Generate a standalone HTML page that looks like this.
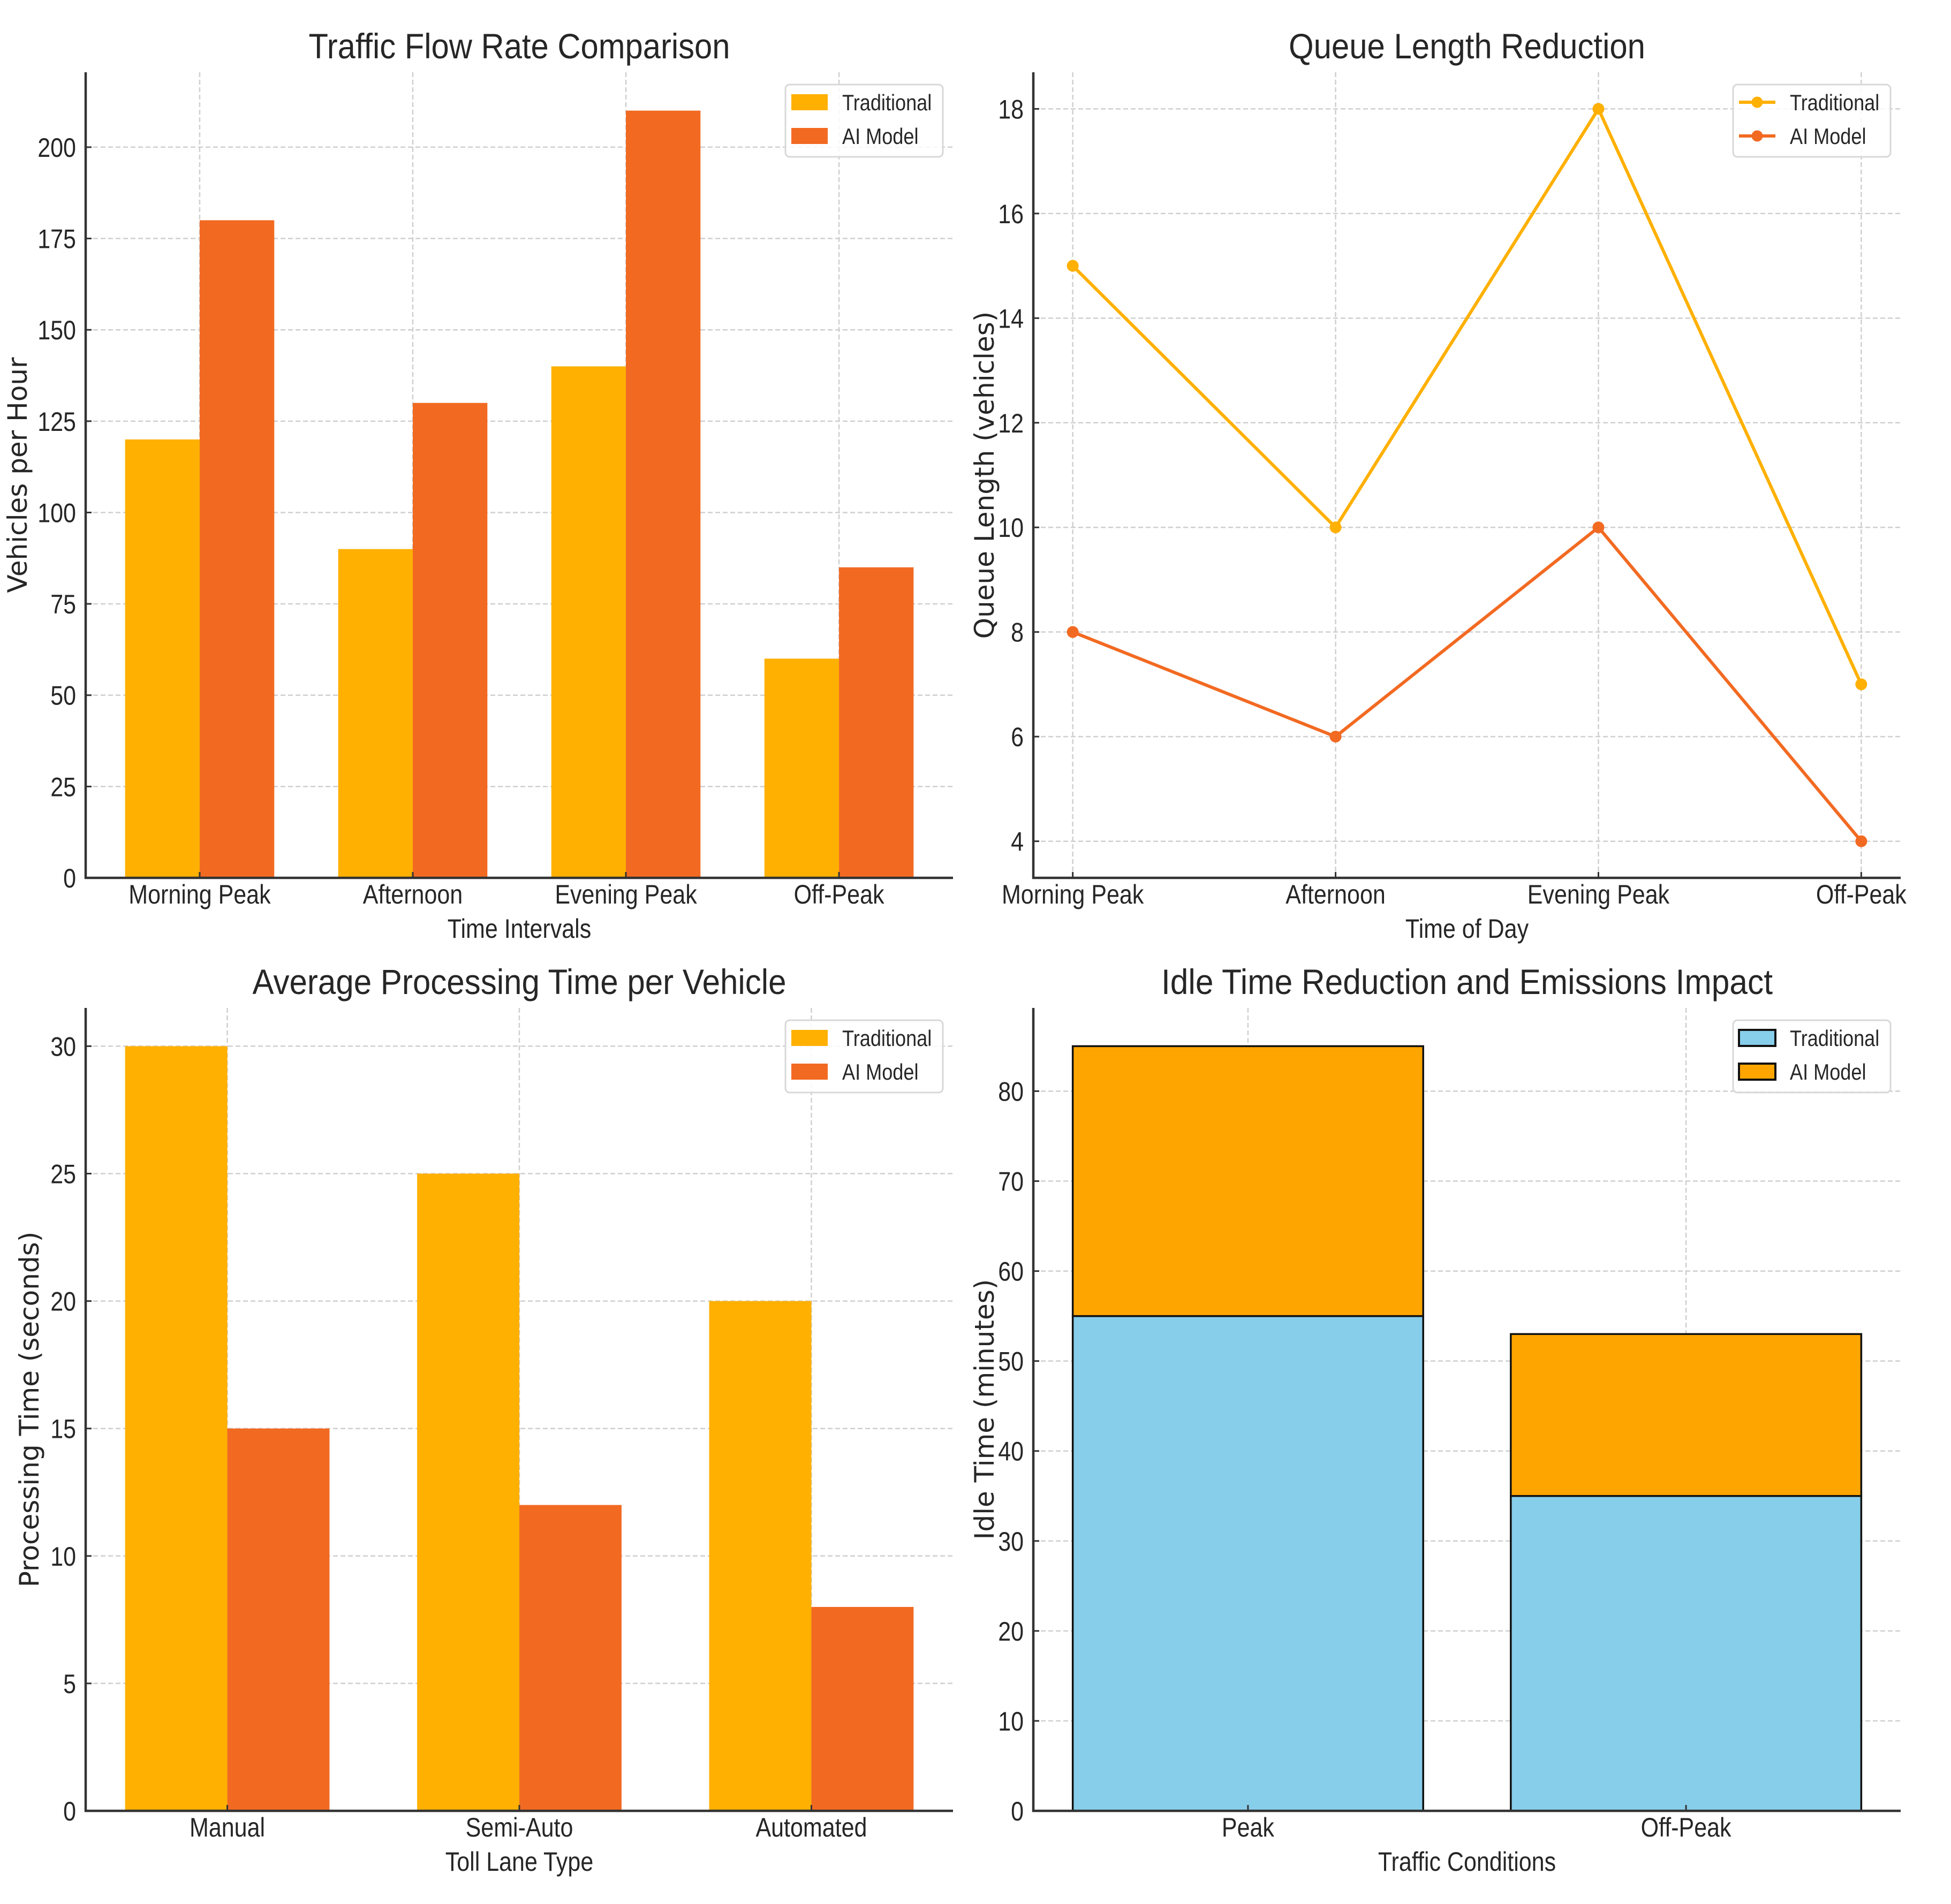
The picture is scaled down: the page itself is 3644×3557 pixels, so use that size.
<!DOCTYPE html>
<html><head><meta charset="utf-8"><style>
html,body{margin:0;padding:0;background:#fff;}
svg{display:block;}
text{font-family:"Liberation Sans Narrow","Liberation Sans",sans-serif;fill:#262626;}
</style></head><body>
<svg id="fig" width="3644" height="3557" viewBox="0 0 3644 3557" xmlns="http://www.w3.org/2000/svg"></svg>
<script>
// ---- data ----
const flowCategories = ["Morning Peak","Afternoon","Evening Peak","Off-Peak"];
const flowTraditional = [120, 90, 140, 60];
const flowAI = [180, 130, 210, 85];
const flowTicks = [0,25,50,75,100,125,150,175,200];

const queueCategories = ["Morning Peak","Afternoon","Evening Peak","Off-Peak"];
const queueTraditional = [15, 10, 18, 7];
const queueAI = [8, 6, 10, 4];
const queueTicks = [4,6,8,10,12,14,16,18];

const procCategories = ["Manual","Semi-Auto","Automated"];
const procTraditional = [30, 25, 20];
const procAI = [15, 12, 8];
const procTicks = [0,5,10,15,20,25,30];

const idleCategories = ["Peak","Off-Peak"];
const idleTraditional = [55, 35];
const idleAI = [30, 18];
const idleTicks = [0,10,20,30,40,50,60,70,80];

const C_TRAD = "#FFB000", C_AI = "#F26A22", C_SKY = "#87CEEB", C_ORG = "#FFA500";
const NS = "http://www.w3.org/2000/svg";
const fig = document.getElementById('fig');

function mk(tag, attrs, parent){
  const e = document.createElementNS(NS, tag);
  for (const k in attrs) e.setAttribute(k, attrs[k]);
  (parent||fig).appendChild(e);
  return e;
}
function txt(str, x, y, size, anchor, parent, squeeze){
  const t = mk('text', {x:x, y:y, 'font-size':size, 'text-anchor':anchor||'middle'}, parent);
  t.textContent = str;
  if (squeeze){
    const L = t.getComputedTextLength();
    t.setAttribute('textLength', (L*squeeze).toFixed(1));
    t.setAttribute('lengthAdjust', 'spacingAndGlyphs');
  }
  return t;
}

function makeAxes(o){
  const g = mk('g', {});
  
  
  const sx = v => o.L + (v - o.xmin)/(o.xmax - o.xmin)*(o.R - o.L);
  const sy = v => o.B - (v - o.ymin)/(o.ymax - o.ymin)*(o.B - o.T);
  const grid = mk('g', {stroke:'#cfcfcf','stroke-width':2.5,'stroke-dasharray':'9,5'}, g);
  
  
  o.yticks.forEach(v => mk('line', {x1:o.L, x2:o.R, y1:sy(v), y2:sy(v)}, grid));
  o.cats.forEach((c,i) => mk('line', {x1:sx(i), x2:sx(i), y1:o.T, y2:o.B}, grid));
  return {g, sx, sy};
}
function finishAxes(ax, o){
  const g = ax.g;
  const sp = mk('g', {stroke:'#333','stroke-width':4.5}, g);
  
  
  mk('line', {x1:o.L, x2:o.L, y1:o.T, y2:o.B+2}, sp);
  mk('line', {x1:o.L-2, x2:o.R, y1:o.B, y2:o.B}, sp);
  const tk = mk('g', {stroke:'#333','stroke-width':3}, g);
  o.yticks.forEach(v => mk('line', {x1:o.L, x2:o.L+11, y1:ax.sy(v), y2:ax.sy(v)}, tk));
  o.cats.forEach((c,i) => mk('line', {x1:ax.sx(i), x2:ax.sx(i), y1:o.B, y2:o.B-11}, tk));
  o.yticks.forEach(v => {
    const t = txt(String(v), o.L-18, ax.sy(v)+18, 50, 'end', g, 0.86);
    
    
  });
  o.cats.forEach((c,i) => {
    const t = txt(c, ax.sx(i), o.B+48, 50, 'middle', g, 0.86);
    
    
  });
  const ti = txt(o.title, (o.L+o.R)/2, o.T-26, 66, 'middle', g);
  ti.setAttribute('textLength', o.titleW);
  ti.setAttribute('lengthAdjust', 'spacingAndGlyphs');
  
  
  const xl = txt(o.xlabel, (o.L+o.R)/2, o.B+112, 50, 'middle', g, 0.86);
  
  
  const cy = (o.T+o.B)/2;
  const yl = mk('text', {x:0, y:0, 'font-size':o.ylfs||48, 'text-anchor':'middle',
     transform:`translate(${o.ylx},${cy}) rotate(-90)`, style:'font-family:"DejaVu Sans",sans-serif'}, g);
  yl.textContent = o.ylabel;
  
  
  const lg = mk('g', {}, g);
  
  
  const lx = o.R - 313, ly = o.T + 23;
  mk('rect', {x:lx, y:ly, width:294, height:135, rx:8, fill:'#fff', 'fill-opacity':0.85, stroke:'#d8d8d8', 'stroke-width':3}, lg);
  o.legend.forEach((en, i) => {
    const cyy = ly + 33 + i*63;
    const e = mk('g', {}, lg);
    
    
    if (en.type === 'line'){
      mk('line', {x1:lx+11, x2:lx+79, y1:cyy, y2:cyy, stroke:en.color, 'stroke-width':6}, e);
      mk('circle', {cx:lx+45, cy:cyy, r:10.5, fill:en.color}, e);
    } else {
      mk('rect', {x:lx+11, y:cyy-15, width:68, height:30, fill:en.color,
        stroke:en.edge||'none', 'stroke-width':en.edge?4:0}, e);
    }
    txt(en.label, lx+106, cyy+15, 42, 'start', e, 0.86);
  });
}

function groupedBars(o, trad, ai){
  const ax = makeAxes(o);
  const w = 0.35;
  o.cats.forEach((c,i) => {
    const r1 = mk('rect', {x:ax.sx(i-w), y:ax.sy(trad[i]), width:ax.sx(i)-ax.sx(i-w), height:ax.sy(0)-ax.sy(trad[i]), fill:C_TRAD}, ax.g);
    
    
    const r2 = mk('rect', {x:ax.sx(i), y:ax.sy(ai[i]), width:ax.sx(i+w)-ax.sx(i), height:ax.sy(0)-ax.sy(ai[i]), fill:C_AI}, ax.g);
    
    
  });
  finishAxes(ax, o);
}

const barLegend = [{label:'Traditional', color:C_TRAD},{label:'AI Model', color:C_AI}];

groupedBars({name:'traffic-flow-chart', L:160, R:1780, T:135, B:1640,
  xmin:-0.535, xmax:3.535, ymin:0, ymax:Math.max(...flowAI, ...flowTraditional)*1.05,
  cats:flowCategories, yticks:flowTicks, title:'Traffic Flow Rate Comparison', titleW:787,
  xlabel:'Time Intervals', ylabel:'Vehicles per Hour', ylx:50, ylfs:50, legend:barLegend}, flowTraditional, flowAI);

(function(){
  const all = queueTraditional.concat(queueAI);
  const mn = Math.min(...all), mx = Math.max(...all), pad = (mx-mn)*0.05;
  const o = {name:'queue-length-chart', L:1930, R:3550, T:135, B:1640,
    xmin:-0.15, xmax:3.15, ymin:mn-pad, ymax:mx+pad,
    cats:queueCategories, yticks:queueTicks, title:'Queue Length Reduction', titleW:666,
    xlabel:'Time of Day', ylabel:'Queue Length (vehicles)', ylx:1856, ylfs:50,
    legend:[{label:'Traditional', color:C_TRAD, type:'line'},{label:'AI Model', color:C_AI, type:'line'}]};
  const ax = makeAxes(o);
  [[queueTraditional, C_TRAD, 'traditional'], [queueAI, C_AI, 'ai-model']].forEach(([vals, col, nm]) => {
    const pts = vals.map((v,i) => ax.sx(i).toFixed(1)+','+ax.sy(v).toFixed(1)).join(' ');
    const pl = mk('polyline', {points:pts, fill:'none', stroke:col, 'stroke-width':6, 'stroke-linejoin':'round'}, ax.g);
    
    
    vals.forEach((v,i) => {
      const c = mk('circle', {cx:ax.sx(i), cy:ax.sy(v), r:11, fill:col}, ax.g);
      
      
    });
  });
  finishAxes(ax, o);
})();

groupedBars({name:'processing-time-chart', L:160, R:1780, T:1883, B:3383,
  xmin:-0.485, xmax:2.485, ymin:0, ymax:Math.max(...procTraditional, ...procAI)*1.05,
  cats:procCategories, yticks:procTicks, title:'Average Processing Time per Vehicle', titleW:997,
  xlabel:'Toll Lane Type', ylabel:'Processing Time (seconds)', ylx:72, ylfs:50, legend:barLegend}, procTraditional, procAI);

(function(){
  const tot = idleTraditional.map((v,i)=>v+idleAI[i]);
  const o = {name:'idle-time-chart', L:1930, R:3550, T:1883, B:3383,
    xmin:-0.49, xmax:1.49, ymin:0, ymax:Math.max(...tot)*1.05,
    cats:idleCategories, yticks:idleTicks, title:'Idle Time Reduction and Emissions Impact', titleW:1142,
    xlabel:'Traffic Conditions', ylabel:'Idle Time (minutes)', ylx:1856, ylfs:50,
    legend:[{label:'Traditional', color:C_SKY, edge:'#111'},{label:'AI Model', color:C_ORG, edge:'#111'}]};
  const ax = makeAxes(o);
  const w = 0.4;
  o.cats.forEach((c,i) => {
    const b1 = mk('rect', {x:ax.sx(i-w), y:ax.sy(idleTraditional[i]), width:ax.sx(i+w)-ax.sx(i-w),
      height:ax.sy(0)-ax.sy(idleTraditional[i]), fill:C_SKY, stroke:'#111', 'stroke-width':3.5}, ax.g);
    
    
    const b2 = mk('rect', {x:ax.sx(i-w), y:ax.sy(tot[i]), width:ax.sx(i+w)-ax.sx(i-w),
      height:ax.sy(idleTraditional[i])-ax.sy(tot[i]), fill:C_ORG, stroke:'#111', 'stroke-width':3.5}, ax.g);
    
    
  });
  finishAxes(ax, o);
})();
</script>
</body></html>
